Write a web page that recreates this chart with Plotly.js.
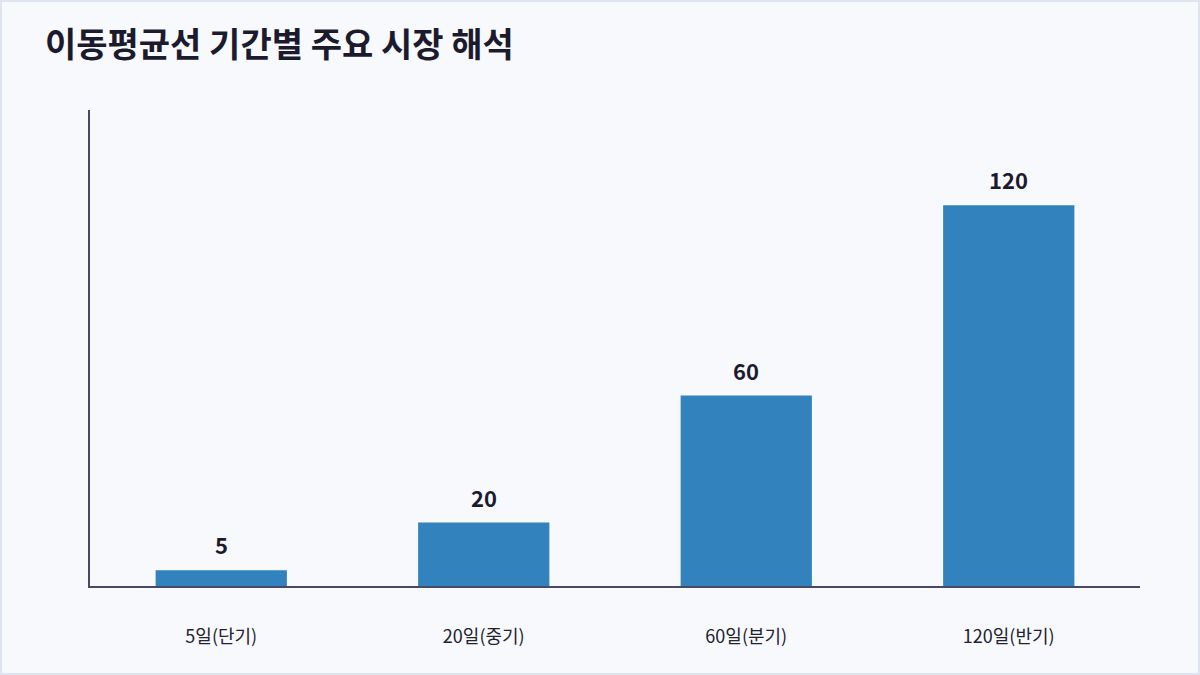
<!DOCTYPE html>
<html>
<head>
<meta charset="utf-8">
<script src="https://cdn.plot.ly/plotly-3.0.1.min.js"></script>
<style>
  html, body { margin: 0; padding: 0; background: #f8f9fd; }
  #wrap { position: relative; width: 1200px; height: 675px; }
  #chart { width: 1200px; height: 675px; }
  #frame { position: absolute; left: 0; top: 0; width: 1200px; height: 675px;
           box-sizing: border-box; border: 2px solid #dfe5ee; pointer-events: none; }
</style>
</head>
<body>
<div id="wrap">
  <div id="chart"></div>
  <div id="frame"></div>
</div>
<script>
// 이동평균선 기간
let periods = ['5일(단기)', '20일(중기)', '60일(분기)', '120일(반기)']
let days = [5, 20, 60, 120]

let font_family = '"Noto Sans CJK KR", "Noto Sans", sans-serif'

let graph_data = [
  {
    x: periods,
    y: days,
    type: 'bar',
    marker: { color: '#3182bd' },
    hoverinfo: 'none'
  }
]

let labels = []
for (let i = 0; i < periods.length; i++) {
  labels.push({
    x: periods[i],
    y: days[i],
    text: '<b>' + days[i] + '</b>',
    showarrow: false,
    yanchor: 'bottom',
    yshift: 8,
    font: { family: font_family, size: 22, color: '#1c1b2e' }
  })
}

var layout = {
  width: 1200,
  height: 675,
  paper_bgcolor: '#f8f9fd',
  plot_bgcolor: '#f8f9fd',
  font: { family: font_family, color: '#2a2a3a' },
  margin: { l: 90, r: 60, t: 110, b: 89 },
  bargap: 0.5,
  showlegend: false,
  title: {
    text: '<b>이동평균선 기간별 주요 시장 해석</b>',
    xref: 'container',
    x: 45 / 1200,
    xanchor: 'left',
    yref: 'container',
    y: 1 - 45 / 675,
    yanchor: 'middle',
    font: { family: font_family, size: 34, color: '#1c1b2e' }
  },
  xaxis: {
    showline: true,
    linecolor: '#4a4868',
    linewidth: 2,
    showgrid: false,
    zeroline: false,
    ticks: '',
    ticklabelstandoff: 33,
    tickfont: { family: font_family, size: 18, color: '#23222f' }
  },
  yaxis: {
    range: [0, 150],
    showline: true,
    linecolor: '#4a4868',
    linewidth: 2,
    showgrid: false,
    zeroline: false,
    showticklabels: false,
    ticks: ''
  },
  annotations: labels
}

Plotly.newPlot('chart', graph_data, layout, { displayModeBar: false, staticPlot: true })
</script>
</body>
</html>
